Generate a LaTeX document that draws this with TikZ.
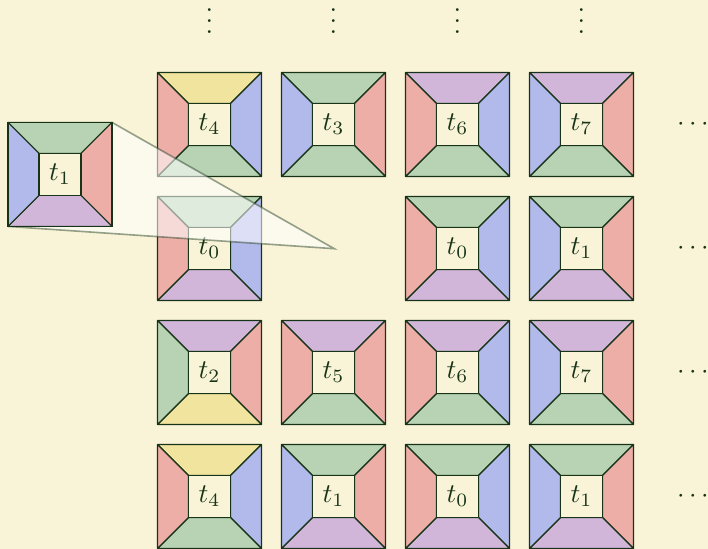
\documentclass[tikz,border=0pt]{standalone}
\usetikzlibrary{calc}
\definecolor{bg}{RGB}{249,244,216}
\definecolor{ink}{RGB}{24,52,24}
\definecolor{cG}{RGB}{184,211,180}
\definecolor{cR}{RGB}{237,174,168}
\definecolor{cB}{RGB}{178,185,235}
\definecolor{cP}{RGB}{209,182,218}
\definecolor{cY}{RGB}{240,228,158}
\newcommand\myvdots{\vbox{\baselineskip4pt\lineskiplimit0pt\hbox{.}\hbox{.}\hbox{.}}}
% name, cx, cy, top, right, bottom, left, label
\newcommand\wtile[8]{%
  \begin{scope}[shift={(#2,#3)}]
    \filldraw[edge,fill=#4] (-52,-52) -- (52,-52) -- (21,-21) -- (-21,-21) -- cycle;
    \filldraw[edge,fill=#5] (52,-52) -- (52,52) -- (21,21) -- (21,-21) -- cycle;
    \filldraw[edge,fill=#6] (52,52) -- (-52,52) -- (-21,21) -- (21,21) -- cycle;
    \filldraw[edge,fill=#7] (-52,52) -- (-52,-52) -- (-21,-21) -- (-21,21) -- cycle;
    \filldraw[edge,fill=bg] (-21,-21) rectangle (21,21);
    \draw[outer] (-52,-52) rectangle (52,52);
    \node[lbl] (#1) at (0,0) {$t_{#8}$};
  \end{scope}}
\begin{document}
\begin{tikzpicture}[x=0.37pt,y=-0.37pt,
  edge/.style={draw=ink,line width=0.4pt,line join=round},
  outer/.style={draw=ink,line width=0.65pt},
  lbl/.style={text=ink,inner sep=0pt},
  dots/.style={text=ink,inner sep=0pt}]
\fill[bg] (0,0) rectangle (708,549);
\useasboundingbox (0,0) rectangle (708,549);
% row 1
\wtile{a1}{209.5}{124.5}{cY}{cB}{cG}{cR}{4}
\wtile{a2}{333.5}{124.5}{cG}{cR}{cG}{cB}{3}
\wtile{a3}{457.5}{124.5}{cP}{cB}{cG}{cR}{6}
\wtile{a4}{581.5}{124.5}{cP}{cR}{cG}{cB}{7}
% row 2
\wtile{b1}{209.5}{248.5}{cG}{cB}{cP}{cR}{0}
\wtile{b3}{457.5}{248.5}{cG}{cB}{cP}{cR}{0}
\wtile{b4}{581.5}{248.5}{cG}{cR}{cP}{cB}{1}
% row 3
\wtile{c1}{209.5}{372.5}{cP}{cR}{cY}{cG}{2}
\wtile{c2}{333.5}{372.5}{cP}{cR}{cG}{cR}{5}
\wtile{c3}{457.5}{372.5}{cP}{cB}{cG}{cR}{6}
\wtile{c4}{581.5}{372.5}{cP}{cR}{cG}{cB}{7}
% row 4
\wtile{d1}{209.5}{496.5}{cY}{cB}{cG}{cR}{4}
\wtile{d2}{333.5}{496.5}{cG}{cR}{cP}{cB}{1}
\wtile{d3}{457.5}{496.5}{cG}{cB}{cP}{cR}{0}
\wtile{d4}{581.5}{496.5}{cG}{cR}{cP}{cB}{1}
% magnifying cone
\coordinate (tip) at (334.3,248.7);
\coordinate (mne) at (112,122.4);
\coordinate (msw) at (8,226.4);
\fill[white,fill opacity=0.55] (mne) -- (tip) -- (msw) -- cycle;
\draw[ink,opacity=0.45,line width=0.6pt] (mne) -- (tip) -- (msw);
% magnified tile
\wtile{m}{60}{174.4}{cG}{cR}{cP}{cB}{1}
% dots
\foreach \x/\n in {209.5/v1,333.5/v2,457.5/v3,581.5/v4}
  \node[dots] (\n) at (\x,21.3) {\myvdots};
\foreach \y/\n in {124.5/h1,248.5/h2,372.5/h3,496.5/h4}
  \node[dots] (\n) at (693,\y) {$\cdots$};
\end{tikzpicture}
\end{document}
